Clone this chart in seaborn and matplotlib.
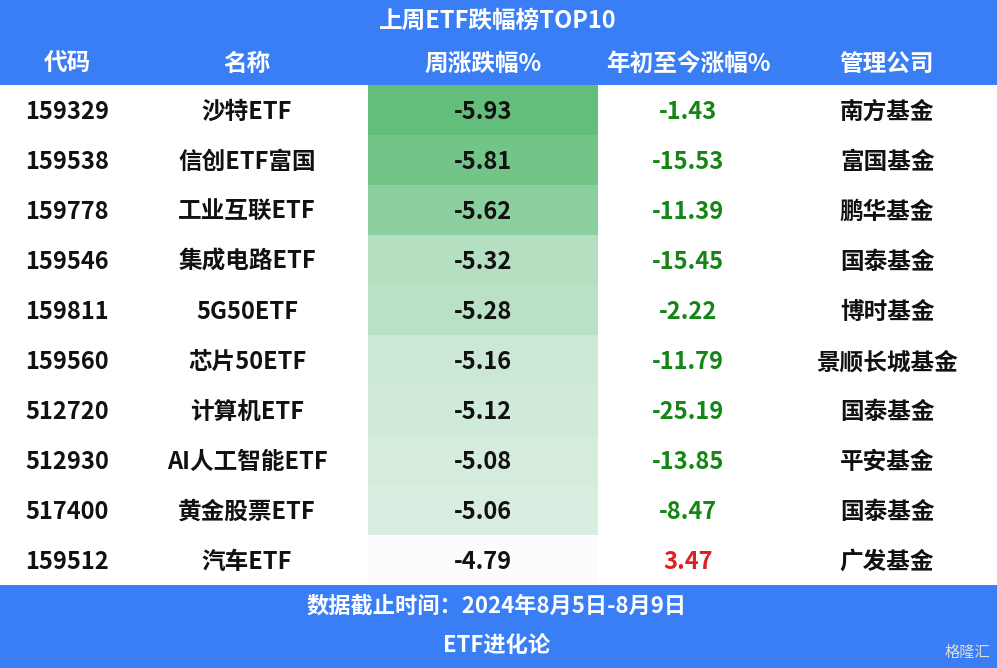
import numpy as np
import pandas as pd
import seaborn as sns
import matplotlib.pyplot as plt
from matplotlib.colors import LinearSegmentedColormap

# data
codes = ['159329', '159538', '159778', '159546', '159811', '159560', '512720', '512930', '517400', '159512']
names = ['沙特ETF', '信创ETF富国', '工业互联ETF', '集成电路ETF', '5G50ETF', '芯片50ETF',
         '计算机ETF', 'AI人工智能ETF', '黄金股票ETF', '汽车ETF']
week_chg = [-5.93, -5.81, -5.62, -5.32, -5.28, -5.16, -5.12, -5.08, -5.06, -4.79]
ytd_chg = [-1.43, -15.53, -11.39, -15.45, -2.22, -11.79, -25.19, -13.85, -8.47, 3.47]
companies = ['南方基金', '富国基金', '鹏华基金', '国泰基金', '博时基金', '景顺长城基金',
             '国泰基金', '平安基金', '国泰基金', '广发基金']
headers = ['代码', '名称', '周涨跌幅%', '年初至今涨幅%', '管理公司']
title = '上周ETF跌幅榜TOP10'
footer1 = '数据截止时间：2024年8月5日-8月9日'
footer2 = 'ETF进化论'

sns.set_theme(style='white')
plt.rcParams['font.family'] = ['Noto Sans CJK SC', 'DejaVu Sans']

W, H = 997, 668
BLUE = '#3a7ef5'
fig = plt.figure(figsize=(W / 100, H / 100), dpi=100)
ax = fig.add_axes([0, 0, 1, 1])
ax.set_xlim(0, W)
ax.set_ylim(H, 0)
ax.axis('off')

top, row_h = 85, 50
ax.add_patch(plt.Rectangle((0, 0), W, top, color=BLUE, lw=0))
bottom = top + row_h * len(codes)
ax.add_patch(plt.Rectangle((0, bottom), W, H - bottom, color=BLUE, lw=0))

ax.text(498, 21, title, ha='center', va='center', color='white', fontsize=17, fontweight='bold')
col_x = [67, 247, 483, 688, 887]
for x, h in zip(col_x, headers):
    ax.text(x, 64, h, ha='center', va='center', color='white', fontsize=17, fontweight='bold')

# heatmap column for weekly change
hax = fig.add_axes([368 / W, 1 - bottom / H, 230 / W, (bottom - top) / H])
cmap = LinearSegmentedColormap.from_list('g', ['#63be7b', '#fcfcff'])
df = pd.DataFrame({'w': week_chg})
sns.heatmap(df, ax=hax, cmap=cmap, cbar=False, annot=True, fmt='.2f',
            annot_kws={'color': '#111111', 'fontsize': 17, 'fontweight': 'bold'},
            xticklabels=False, yticklabels=False)
hax.axis('off')
for t in hax.texts:
    x, y = t.get_position()
    t.set_position((x, y + 0.04))

for i in range(len(codes)):
    y = top + row_h * (i + 0.5) + 2
    ax.text(col_x[0], y, codes[i], ha='center', va='center', fontsize=17, fontweight='bold', color='#111111')
    ax.text(col_x[1], y, names[i], ha='center', va='center', fontsize=17, fontweight='bold', color='#111111')
    c = '#e02020' if ytd_chg[i] > 0 else '#158515'
    ax.text(col_x[3], y, f'{ytd_chg[i]:.2f}', ha='center', va='center', fontsize=17,
            fontweight='bold', color=c)
    ax.text(col_x[4], y, companies[i], ha='center', va='center', fontsize=17, fontweight='bold', color='#111111')

ax.text(497, 606, footer1, ha='center', va='center', color='white', fontsize=16, fontweight='bold')
ax.text(497, 646, footer2, ha='center', va='center', color='white', fontsize=16, fontweight='bold')
ax.text(990, 652, '格隆汇', ha='right', va='center', color='#dddddd', fontsize=11)

fig.savefig('out.png', dpi=100)
